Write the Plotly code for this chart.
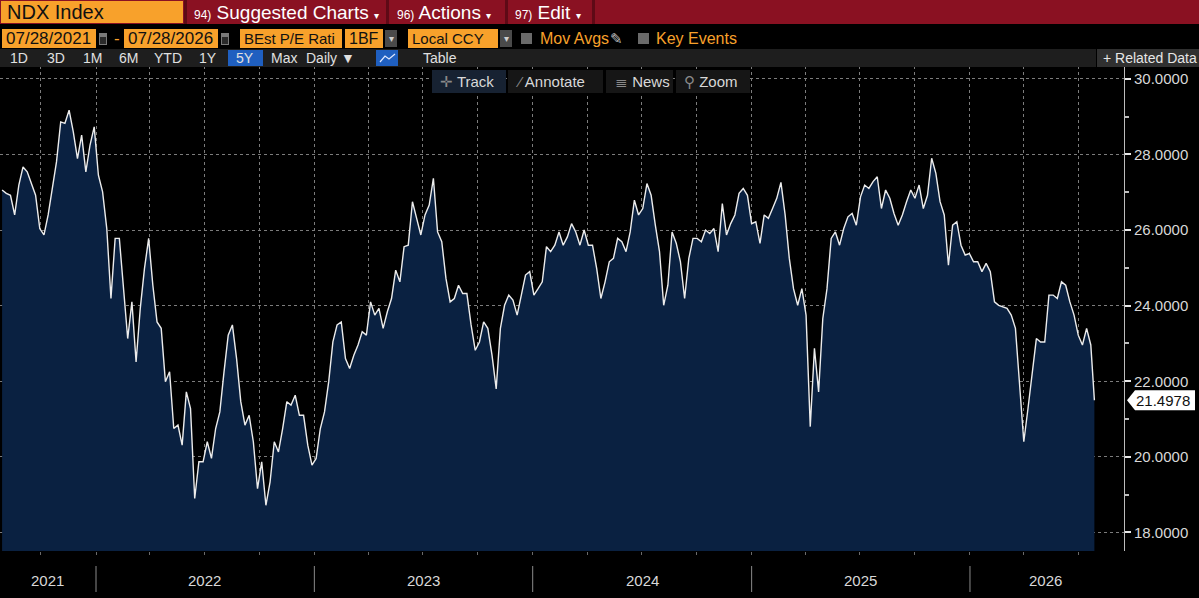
import plotly.graph_objects as go
import pandas as pd

# ---------------- data ----------------
start_date = "2021-07-28"          # weekly observations from this date
pe_weekly = [
    27.06, 26.97, 26.92, 26.40, 27.19, 27.67, 27.54, 27.23, 26.92, 26.04,
    25.87, 26.40, 27.06, 27.81, 28.86, 28.82, 29.17, 28.60, 27.89, 28.51,
    27.54, 28.25, 28.73, 27.45, 27.01, 26.04, 24.19, 25.78, 25.78, 24.45,
    23.13, 24.10, 22.51, 23.93, 24.98, 25.78, 24.54, 23.57, 23.40, 21.99,
    22.25, 20.75, 20.84, 20.31, 21.72, 21.28, 18.90, 19.87, 19.87, 20.40,
    19.96, 20.75, 21.19, 22.25, 23.22, 23.49, 22.60, 21.46, 20.84, 21.10,
    20.40, 19.16, 19.87, 18.72, 19.34, 20.40, 20.13, 20.75, 21.46, 21.37,
    21.63, 21.10, 21.10, 20.31, 19.78, 19.96, 20.75, 21.19, 21.99, 23.04,
    23.49, 23.57, 22.60, 22.34, 22.69, 22.96, 23.31, 23.22, 24.10, 23.75,
    23.93, 23.40, 23.84, 24.19, 24.94, 24.63, 25.56, 25.60, 26.75, 26.31,
    25.87, 26.40, 26.66, 27.37, 25.95, 25.69, 24.72, 24.10, 24.19, 24.54,
    24.32, 24.32, 23.49, 22.82, 23.04, 23.57, 23.40, 22.69, 21.80, 23.40,
    24.01, 24.28, 24.15, 23.75, 24.28, 24.81, 24.90, 24.28, 24.45, 24.63,
    25.56, 25.43, 25.60, 25.95, 25.60, 25.82, 26.17, 25.95, 25.60, 26.00,
    25.60, 25.60, 24.98, 24.19, 24.63, 25.16, 25.25, 25.78, 25.69, 25.43,
    25.95, 26.79, 26.40, 26.57, 27.23, 26.92, 26.13, 25.43, 24.01, 24.54,
    25.95, 25.65, 25.16, 24.19, 25.25, 25.78, 25.78, 25.69, 26.00, 25.91,
    26.04, 25.43, 26.70, 25.87, 26.17, 26.40, 26.97, 27.10, 26.92, 26.17,
    26.22, 25.65, 26.40, 26.31, 26.57, 26.84, 27.26, 26.40, 25.25, 24.45,
    24.01, 24.45, 23.75, 20.80, 22.87, 21.72, 23.66, 24.45, 25.78, 25.95,
    25.60, 26.04, 26.35, 26.44, 26.13, 26.88, 27.19, 27.10, 27.28, 27.41,
    26.57, 27.06, 26.84, 26.44, 26.13, 26.40, 26.75, 27.06, 26.84, 27.19,
    26.57, 26.92, 27.90, 27.50, 26.75, 26.40, 25.07, 26.13, 26.22, 25.60,
    25.34, 25.38, 25.16, 25.16, 24.90, 25.12, 24.90, 24.10, 24.01, 23.97,
    23.93, 23.75, 23.40, 21.90, 20.40, 21.28, 22.16, 23.13, 23.04, 23.04,
    24.28, 24.28, 24.19, 24.63, 24.54, 24.10, 23.75, 23.22, 22.96, 23.40,
    22.96,
]
last_date = "2026-07-28"
last_value = 21.4978

year_labels = ["2021", "2022", "2023", "2024", "2025", "2026"]
year_label_dates = ["2021-10-12", "2022-07-02", "2023-07-02", "2024-07-02", "2025-07-02", "2026-05-08"]
year_bounds = ["2022-01-01", "2023-01-01", "2024-01-01", "2025-01-01", "2026-01-01"]
quarter_dates = pd.date_range("2021-10-01", "2026-07-01", freq="QS").strftime("%Y-%m-%d").tolist()

dates = list(pd.date_range(start_date, periods=len(pe_weekly), freq="7D")) + [pd.Timestamp(last_date)]
values = pe_weekly + [last_value]

# ---------------- layout helpers (pixel -> paper) ----------------
W, H = 1199, 598
ML, MR, MT, MB = 0, 75, 66, 47
PW, PH = W - ML - MR, H - MT - MB


def px(x):
    return (x - ML) / PW


def py(y):
    return (H - MB - y) / PH


shapes = []
annots = []


def rect(x0, y0, x1, y1, color, line=None):
    shapes.append(dict(type="rect", xref="paper", yref="paper",
                       x0=px(x0), x1=px(x1), y0=py(y1), y1=py(y0),
                       fillcolor=color, line=dict(width=0) if line is None else line,
                       layer="above"))


def text(x, y, s, size=15, color="#dcdcdc", anchor="left", family="Liberation Sans, Arial, sans-serif"):
    annots.append(dict(x=px(x), y=py(y), xref="paper", yref="paper", text=s,
                       showarrow=False, xanchor=anchor, yanchor="middle",
                       font=dict(size=size, color=color, family=family)))


ORANGE = "#f8a12b"
RED = "#8a1122"
RED_DARK = "#5e0a16"

# Row 1: red menu bar
rect(0, 0, W, 24, RED)
rect(1, 1, 183, 23, ORANGE)
text(5, 12.5, "NDX Index", 20, "#111111")
for x0, x1 in [(184, 187), (386, 389), (505, 508), (592, 595)]:
    rect(x0, 0, x1, 24, RED_DARK)
text(192, 12.5, "<span style='font-size:12px'>94)</span> Suggested Charts <span style='font-size:10px'>▾</span>", 19, "#ffffff")
text(395, 12.5, "<span style='font-size:12px'>96)</span> Actions <span style='font-size:10px'>▾</span>", 19, "#ffffff")
text(513, 12.5, "<span style='font-size:12px'>97)</span> Edit <span style='font-size:10px'>▾</span>", 19, "#ffffff")

# Row 2: date / field selectors
for x0, x1, s, fs in [(2, 96, "07/28/2021", 17), (124, 218, "07/28/2026", 17),
                      (240, 342, "BEst P/E Rati", 15), (345, 383, "1BF", 16), (408, 498, "Local CCY", 15)]:
    rect(x0, 29, x1, 48, ORANGE)
    text(x0 + 2, 39, s, fs, "#111111")
for x0 in (98, 220):
    rect(x0 + 1, 33, x0 + 9, 45, "#7a7a7a")
    rect(x0 + 2, 37, x0 + 8, 44, "#2a2a2a")
text(112, 39, "-", 17, ORANGE)
for x0 in (385, 500):
    rect(x0, 30, x0 + 12, 47, "#4a4a4a")
    text(x0 + 6, 39, "▾", 10, "#cfcfcf", "center")
rect(521, 33, 532, 44, "#6a6a6a")
text(538, 39, "Mov Avgs", 16, ORANGE)
text(608, 39, "✎", 15, "#bdbdbd")
rect(638, 33, 649, 44, "#6a6a6a")
text(654, 39, "Key Events", 16, ORANGE)

# Row 3: range buttons
rect(0, 49, 1096, 67, "#1e1e1e")
rect(1097, 49, W, 67, "#303030")
text(1101, 58, "+ Related Data", 14, "#e6e6e6")
rect(228, 50, 263, 66, "#1f5fc0")
rect(376, 50, 398, 66, "#1f5fc0")
shapes.append(dict(type="path", xref="paper", yref="paper", layer="above",
                   path="M {} {} L {} {} L {} {} L {} {}".format(
                       px(380), py(62), px(385), py(56), px(389), py(59), px(395), py(54)),
                   line=dict(color="#dfe8ff", width=1.2)))
for cx, s in [(19, "1D"), (56, "3D"), (92, "1M"), (128, "6M"), (168, "YTD"), (208, "1Y"),
              (245, "5Y"), (284, "Max"), (330, "Daily ▼"), (440, "Table")]:
    text(cx, 58, s, 14, "#e0e0e0", "center")

# Row 4: chart tools bar
for x0, x1, bg in [(432, 506, "#172232"), (508, 603, "#161616"), (606, 673, "#161616"), (676, 750, "#161616")]:
    rect(x0, 70, x1, 93, bg)
text(438, 81.5, "<span style='color:#8a8a8a'>✛</span> Track", 15, "#d8d8d8")
text(513, 81.5, "<span style='color:#8a8a8a'>⁄</span> Annotate", 15, "#d8d8d8")
text(613, 81.5, "<span style='color:#8a8a8a'>≣</span> News", 15, "#d8d8d8")
text(682, 81.5, "<span style='color:#8a8a8a'>⚲</span> Zoom", 15, "#d8d8d8")

# Year separators and labels on the time axis
for d in year_bounds:
    shapes.append(dict(type="line", xref="x", yref="paper", x0=d, x1=d,
                       y0=py(566), y1=py(592), line=dict(color="#8a8a8a", width=1)))
for d, s in zip(year_label_dates, year_labels):
    annots.append(dict(x=d, y=py(580), xref="x", yref="paper", text=s, showarrow=False,
                       xanchor="center", yanchor="middle",
                       font=dict(size=15, color="#d8d8d8", family="Liberation Sans, Arial, sans-serif")))

# Last-value tag
tag_h = 10 / 37.8
shapes.append(dict(type="path", xref="paper", yref="y", layer="above",
                   path="M {a} {v} L {b} {t} L {c} {t} L {c} {u} L {b} {u} Z".format(
                       a=px(1127), b=px(1135), c=px(1195), v=last_value,
                       t=last_value + tag_h, u=last_value - tag_h),
                   fillcolor="#ffffff", line=dict(width=0)))
annots.append(dict(x=px(1163), y=last_value, xref="paper", yref="y", text=f"{last_value:.4f}",
                   showarrow=False, xanchor="center", yanchor="middle",
                   font=dict(size=15, color="#111111", family="Liberation Sans, Arial, sans-serif")))

# ---------------- figure ----------------
fig = go.Figure()
fig.add_trace(go.Scatter(x=dates, y=values, mode="lines", fill="tozeroy",
                         fillcolor="#0a2141", line=dict(color="#ececec", width=1.4),
                         hoverinfo="skip", showlegend=False))

x0_range = pd.Timestamp("2022-01-01") - pd.Timedelta(days=160.5)
x1_range = pd.Timestamp("2026-01-01") + pd.Timedelta(days=257.5)

fig.update_layout(
    width=W, height=H,
    margin=dict(l=ML, r=MR, t=MT, b=MB, pad=0),
    paper_bgcolor="#000000", plot_bgcolor="#000000",
    showlegend=False,
    xaxis=dict(range=[x0_range, x1_range], tickmode="array", tickvals=quarter_dates,
               showticklabels=False, ticks="outside", ticklen=3, tickcolor="#6a6a6a",
               showgrid=True, gridcolor="#7c7c7c", griddash="dot", gridwidth=1,
               zeroline=False, showline=False, fixedrange=True),
    yaxis=dict(range=[17.51, 30.34], side="right", tick0=18, dtick=2, tickformat=".4f",
               showgrid=True, gridcolor="#7c7c7c", griddash="dot", gridwidth=1,
               ticks="outside", ticklen=6, tickwidth=2, tickcolor="#e8e8e8",
               minor=dict(dtick=1, tick0=17, ticks="outside", ticklen=4, tickcolor="#bdbdbd", showgrid=False),
               showline=True, linecolor="#bdbdbd", linewidth=1,
               tickfont=dict(size=15, color="#d8d8d8", family="Liberation Sans, Arial, sans-serif"),
               zeroline=False, fixedrange=True),
    shapes=shapes,
    annotations=annots,
)

fig.write_html("out.html")
